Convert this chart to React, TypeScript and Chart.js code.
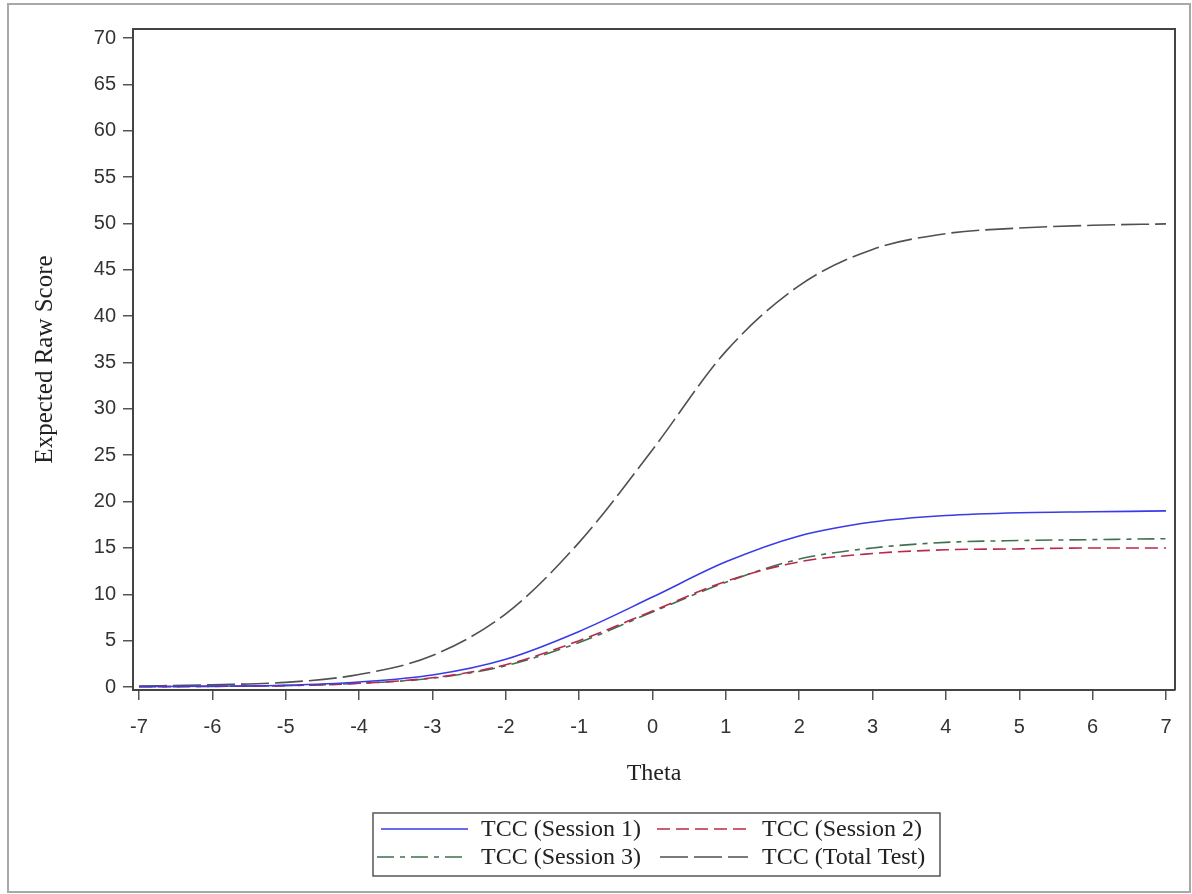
import { useEffect, useRef } from "react";
import { Chart, registerables } from "chart.js";

Chart.register(...registerables);

const theta = [-7, -6, -5, -4, -3, -2, -1, 0, 1, 2, 3, 4, 5, 6, 7];
const session1 = [0.05, 0.1, 0.2, 0.55, 1.3, 3.0, 6.0, 9.7, 13.5, 16.3, 17.8, 18.5, 18.8, 18.9, 19.0];
const session2 = [0.03, 0.07, 0.15, 0.4, 1.0, 2.4, 5.0, 8.2, 11.4, 13.5, 14.4, 14.8, 14.9, 15.0, 15.0];
const session3 = [0.03, 0.07, 0.15, 0.4, 0.95, 2.3, 4.8, 8.1, 11.3, 13.8, 15.0, 15.6, 15.8, 15.9, 16.0];
const totalTest = [0.1, 0.25, 0.5, 1.35, 3.4, 7.9, 15.6, 25.6, 36.2, 43.3, 47.2, 48.9, 49.5, 49.8, 49.95];

const xTicks = [-7, -6, -5, -4, -3, -2, -1, 0, 1, 2, 3, 4, 5, 6, 7];
const yTicks = [0, 5, 10, 15, 20, 25, 30, 35, 40, 45, 50, 55, 60, 65, 70];

const seriesLabels = ["TCC (Session 1)", "TCC (Session 2)", "TCC (Session 3)", "TCC (Total Test)"];
const seriesColors = ["#3a3ae8", "#b82a4a", "#3f7050", "#505050"];
const seriesDashes: number[][] = [[], [13, 6], [17, 6, 5, 6], [28, 6]];
const seriesValues = [session1, session2, session3, totalTest];

export default function App() {
  const ref = useRef<HTMLCanvasElement>(null);

  useEffect(() => {
    if (!ref.current) return;
    const framePlugin = {
      id: "frame",
      beforeDraw(chart: any) {
        const ctx = chart.ctx;
        ctx.save();
        ctx.fillStyle = "#ffffff";
        ctx.fillRect(0, 0, chart.width, chart.height);
        ctx.restore();
      },
      afterDraw(chart: any) {
        const ctx = chart.ctx;
        const a = chart.chartArea;
        ctx.save();
        ctx.strokeStyle = "#444";
        ctx.lineWidth = 2;
        ctx.beginPath();
        ctx.moveTo(a.left, a.top);
        ctx.lineTo(a.right, a.top);
        ctx.lineTo(a.right, a.bottom);
        ctx.stroke();
        ctx.strokeStyle = "#a8a8a8";
        ctx.lineWidth = 2;
        ctx.strokeRect(8, 4, 1182, 888);
        const lx = 373, ly = 813, lw = 567, lh = 63;
        ctx.strokeStyle = "#555";
        ctx.lineWidth = 1.5;
        ctx.strokeRect(lx, ly, lw, lh);
        const rows = [829, 857];
        const items = [
          { x0: 381, x1: 468, tx: 481, row: 0 },
          { x0: 657, x1: 748, tx: 762, row: 0 },
          { x0: 377, x1: 462, tx: 481, row: 1 },
          { x0: 660, x1: 748, tx: 762, row: 1 },
        ];
        ctx.font = '24px "Liberation Serif"';
        ctx.textBaseline = "middle";
        items.forEach((it, i) => {
          const y = rows[it.row];
          ctx.strokeStyle = seriesColors[i];
          ctx.lineWidth = 1.6;
          ctx.setLineDash(seriesDashes[i]);
          ctx.beginPath();
          ctx.moveTo(it.x0, y);
          ctx.lineTo(it.x1, y);
          ctx.stroke();
          ctx.setLineDash([]);
          ctx.fillStyle = "#222";
          ctx.fillText(seriesLabels[i], it.tx, y + 1);
        });
        ctx.restore();
      },
    };

    const datasets = seriesValues.map((vals, i) => ({
      label: seriesLabels[i],
      data: theta.map((t, j) => ({ x: t, y: vals[j] })),
      borderColor: seriesColors[i],
      backgroundColor: seriesColors[i],
      borderWidth: 1.6,
      borderDash: seriesDashes[i],
      pointRadius: 0,
      fill: false,
      cubicInterpolationMode: "monotone" as const,
    }));

    const chart = new Chart(ref.current, {
      type: "line",
      data: { datasets },
      options: {
        responsive: false,
        animation: false,
        layout: { padding: { left: 0, top: 29, right: 17, bottom: 94 } },
        plugins: {
          legend: { display: false },
          tooltip: { enabled: false },
        },
        scales: {
          x: {
            type: "linear",
            min: -7.082,
            max: 7.123,
            afterBuildTicks: (s: any) => {
              s.ticks = xTicks.map((v) => ({ value: v }));
            },
            afterFit: (s: any) => {
              s.height = 110;
            },
            ticks: {
              autoSkip: false,
              maxRotation: 0,
              padding: 15,
              color: "#333",
              font: { family: "Liberation Sans", size: 20 },
              callback: (v: any) => String(v),
            },
            grid: { drawOnChartArea: false, drawTicks: true, tickLength: 10, color: "#555", lineWidth: 1.5 },
            border: { display: true, color: "#444", width: 2 },
            title: {
              display: true,
              text: "Theta",
              color: "#222",
              font: { family: "Liberation Serif", size: 24 },
              padding: { top: 0, bottom: 12 },
            },
          },
          y: {
            type: "linear",
            min: -0.32,
            max: 70.97,
            afterBuildTicks: (s: any) => {
              s.ticks = yTicks.map((v) => ({ value: v }));
            },
            afterFit: (s: any) => {
              s.width = 133;
            },
            ticks: {
              autoSkip: false,
              padding: 7,
              color: "#333",
              font: { family: "Liberation Sans", size: 20 },
              callback: (v: any) => String(v),
            },
            grid: { drawOnChartArea: false, drawTicks: true, tickLength: 10, color: "#555", lineWidth: 1.5 },
            border: { display: true, color: "#444", width: 2 },
            title: {
              display: true,
              text: "Expected Raw Score",
              color: "#222",
              font: { family: "Liberation Serif", size: 25 },
              padding: { top: 30, bottom: 0 },
            },
          },
        },
      },
      plugins: [framePlugin],
    });
    return () => chart.destroy();
  }, []);

  return (
    <div style={{ position: "absolute", left: 0, top: 0, width: 1192, height: 894 }}>
      <canvas ref={ref} width={1192} height={894} style={{ width: 1192, height: 894, display: "block" }} />
    </div>
  );
}
